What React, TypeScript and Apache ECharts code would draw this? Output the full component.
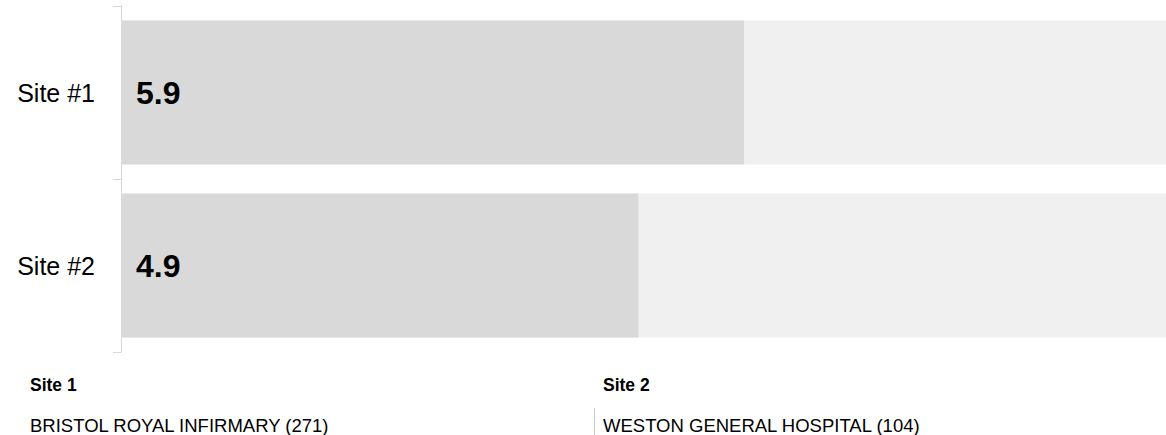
import React, { useEffect, useRef } from "react";
import * as echarts from "echarts";

const categories = ["Site #1", "Site #2"];
const scores = [5.9, 4.9];
const scaleMax = 10;
const siteHeadings = ["Site 1", "Site 2"];
const siteNames = ["BRISTOL ROYAL INFIRMARY (271)", "WESTON GENERAL HOSPITAL (104)"];

const FONT = "Arial, 'Liberation Sans', sans-serif";

export default function App() {
  const ref = useRef<HTMLDivElement>(null);

  useEffect(() => {
    if (!ref.current) return;
    const chart = echarts.init(ref.current, undefined, { renderer: "svg" });
    const colX = [30, 603];
    chart.setOption({
      animation: false,
      textStyle: { fontFamily: FONT },
      grid: { left: 121, right: 0, top: 6, height: 346, containLabel: false },
      xAxis: { type: "value", min: 0, max: scaleMax, show: false },
      yAxis: {
        type: "category",
        inverse: true,
        data: categories,
        axisLine: { show: true, lineStyle: { color: "#d6d6d6", width: 1 } },
        axisTick: { show: true, length: 8, lineStyle: { color: "#d6d6d6" } },
        axisLabel: { fontSize: 25, color: "#000", margin: 26, fontFamily: FONT },
        splitLine: { show: false },
      },
      series: [
        {
          type: "bar",
          data: scores,
          barWidth: 144,
          showBackground: true,
          backgroundStyle: { color: "#f0f0f0" },
          itemStyle: { color: "#d9d9d9" },
          label: {
            show: true,
            position: "insideLeft",
            distance: 15,
            fontSize: 32,
            fontWeight: "bold",
            color: "#000",
            fontFamily: FONT,
            formatter: (p: any) => Number(p.value).toFixed(1),
          },
          silent: true,
        },
      ],
      graphic: [
        ...siteHeadings.map((t, i) => ({
          type: "text",
          x: colX[i],
          y: 385,
          style: { text: t, fill: "#000", font: `bold 17.5px ${FONT}`, verticalAlign: "middle" },
        })),
        ...siteNames.map((t, i) => ({
          type: "text",
          x: colX[i],
          y: 425,
          style: { text: t, fill: "#000", font: `18.5px ${FONT}`, verticalAlign: "middle" },
        })),
        {
          type: "line",
          shape: { x1: 594.5, y1: 408, x2: 594.5, y2: 440 },
          style: { stroke: "#cccccc", lineWidth: 1 },
        },
      ],
    });
    return () => chart.dispose();
  }, []);

  return (
    <div style={{ position: "absolute", left: 0, top: 0, width: 1166, height: 435, overflow: "hidden" }}>
      <div ref={ref} style={{ width: 1177, height: 435 }} />
    </div>
  );
}
